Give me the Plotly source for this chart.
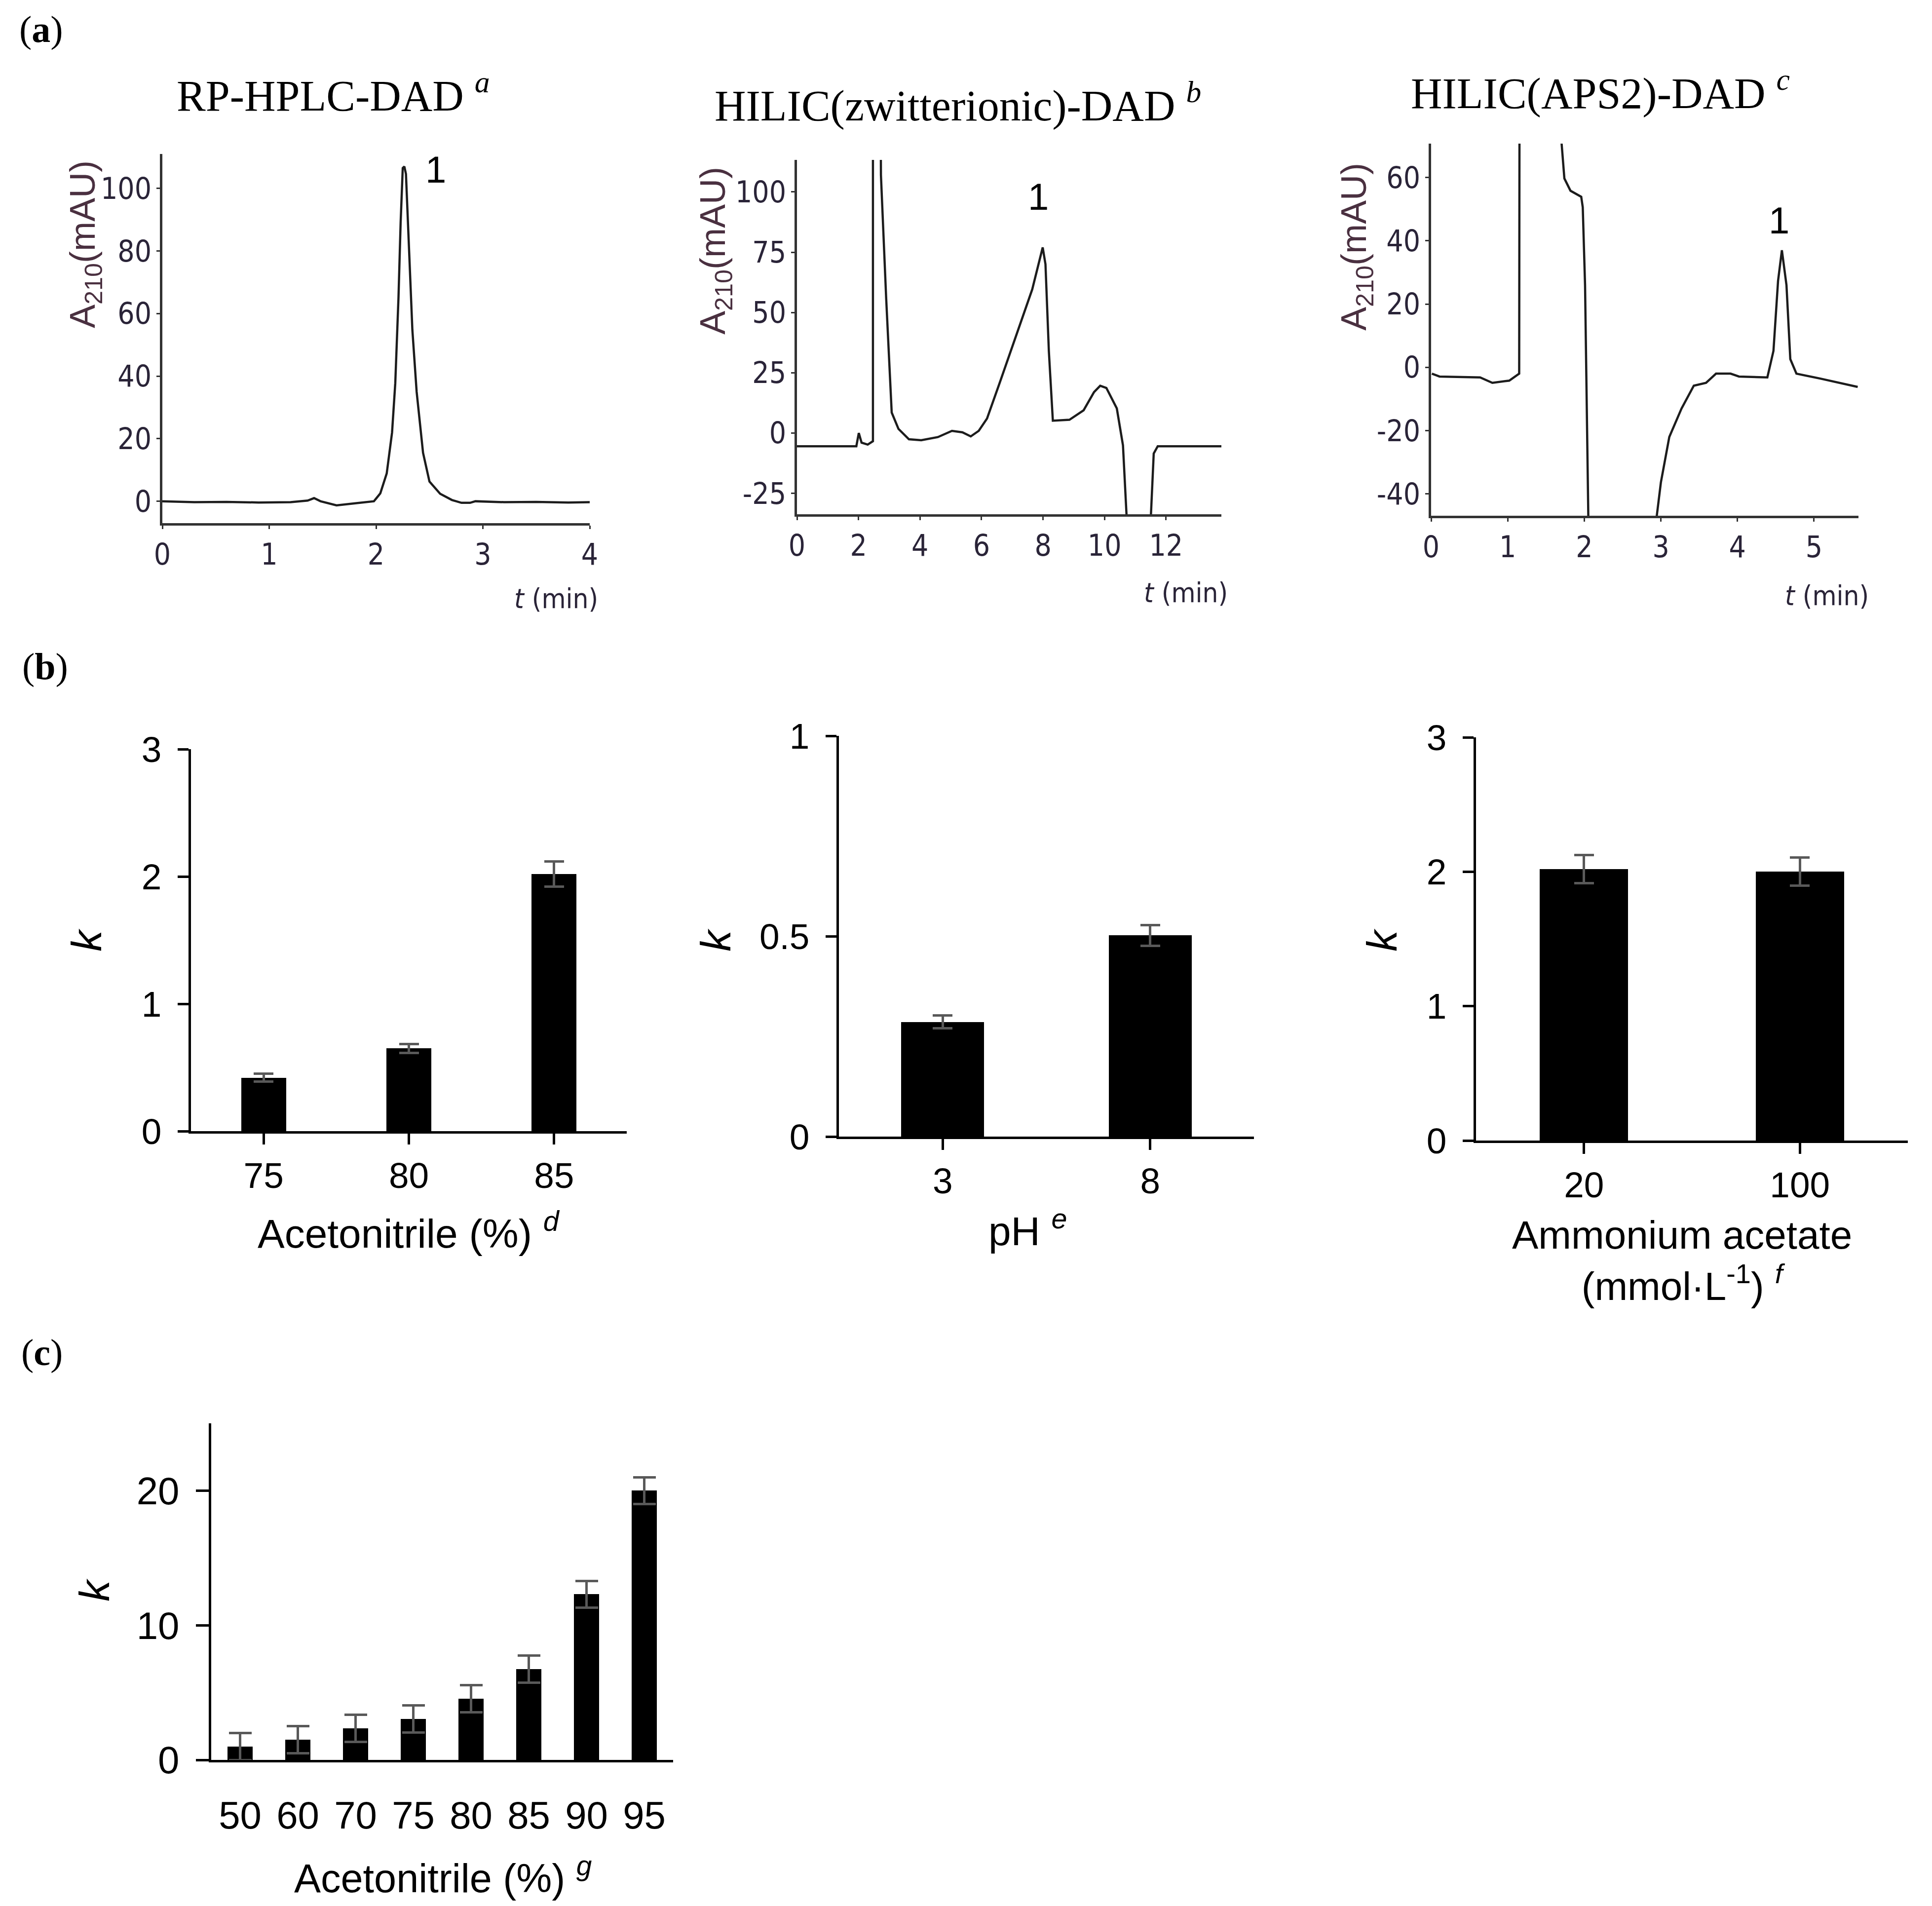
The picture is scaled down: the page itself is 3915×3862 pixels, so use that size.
import plotly.graph_objects as go

W, H = 3915, 3862

# ---- (a) chromatograms ----
rp_t = [0, 0.3, 0.6, 0.9, 1.2, 1.36, 1.42, 1.48, 1.63, 1.8, 1.98, 2.04, 2.10, 2.15, 2.18,
        2.21, 2.23, 2.25, 2.265, 2.28, 2.31, 2.34, 2.38, 2.44, 2.50, 2.60, 2.71, 2.80,
        2.88, 2.93, 3.2, 3.5, 3.8, 4.0]
rp_a = [0, -0.3, -0.2, -0.4, -0.3, 0.2, 1.0, 0, -1.3, -0.6, 0, 2.5, 8.9, 22, 37.7,
        65, 88.9, 106.5, 107, 104.6, 78, 54.8, 35, 15.5, 6.3, 2.4, 0.4, -0.5,
        -0.5, 0, -0.3, -0.2, -0.4, -0.3]

zw_t = [0, 1.93, 2.01, 2.10, 2.30, 2.47, 2.47, 2.60, 2.70, 2.73, 2.90, 3.08, 3.30, 3.64,
        4.04, 4.58, 5.04, 5.38, 5.65, 5.91, 6.18, 6.58, 7.12, 7.65, 7.99, 8.08, 8.19,
        8.32, 8.86, 9.32, 9.66, 9.86, 10.06, 10.40, 10.60, 10.76, 11.47, 11.60, 11.73, 13.81]
zw_a = [-5.5, -5.5, 0, -4, -4.8, -3.4, 200, 200, 200, 107, 56, 8.5, 1.7, -2.6,
        -3, -1.7, 0.9, 0.3, -1.4, 0.9, 6, 20.4, 40, 59.6, 77, 70, 34,
        5.1, 5.5, 9.4, 17, 19.6, 18.7, 10.2, -5.1, -45, -45, -8.5, -5.5, -5.5]

aps_t = [0.01, 0.11, 0.64, 0.80, 1.02, 1.15, 1.16, 1.40, 1.69, 1.74, 1.82, 1.96, 1.98,
         2.01, 2.06, 2.50, 2.88, 3.00, 3.11, 3.27, 3.43, 3.59, 3.72, 3.91, 4.02, 4.39,
         4.47, 4.53, 4.58, 4.64, 4.69, 4.77, 5.09, 5.57]
aps_a = [-2, -2.9, -3.2, -4.9, -4.2, -2, 200, 200, 75, 59.7, 55.8, 53.9, 50.6,
         26, -60, -60, -60, -36.4, -22, -13, -5.8, -4.9, -2, -2, -2.9, -3.2,
         5.2, 27.3, 37, 26, 2.6, -2, -3.6, -6.2]

rp_yticks = [0, 20, 40, 60, 80, 100]
zw_yticks = [-25, 0, 25, 50, 75, 100]
aps_yticks = [-40, -20, 0, 20, 40, 60]

# ---- (b) retention factors ----
acn_b = ["75", "80", "85"]
k_acn_b = [0.42, 0.65, 2.02]
err_acn_b = [0.03, 0.035, 0.1]

ph_cat = ["3", "8"]
k_ph = [0.286, 0.502]
err_ph = [0.016, 0.026]

amm_cat = ["20", "100"]
k_amm = [2.02, 2.0]
err_amm = [0.105, 0.105]

# ---- (c) ----
acn_c = ["50", "60", "70", "75", "80", "85", "90", "95"]
k_acn_c = [1.0, 1.5, 2.35, 3.05, 4.55, 6.75, 12.3, 20.0]
err_acn_c = [1.0, 1.0, 1.0, 1.0, 1.0, 1.0, 1.0, 1.0]


def fx(px):
    return px / W


def fy(py):
    return 1 - py / H


def hyphen(vals):
    # the original uses a plain hyphen for negatives
    return [str(v) for v in vals]


fig = go.Figure()

narrow = "Liberation Sans Narrow, DejaVu Sans Condensed, Liberation Sans, Arial"
sans = "Liberation Sans, Arial"
serif = "Liberation Serif, Times New Roman, serif"
chrom_font = dict(family=narrow, size=60, color="#2a2438")
bar_font = dict(family=sans, size=73, color="black")

chroms = [
    (rp_t, rp_a, "x", "y"),
    (zw_t, zw_a, "x2", "y2"),
    (aps_t, aps_a, "x3", "y3"),
]
for t, a, xa, ya in chroms:
    fig.add_trace(go.Scatter(x=t, y=a, mode="lines", xaxis=xa, yaxis=ya,
                             line=dict(color="#1c1c1c", width=4.5), showlegend=False,
                             hoverinfo="skip"))

bars = [
    (acn_b, k_acn_b, err_acn_b, "x4", "y4", 0.31, 20),
    (ph_cat, k_ph, err_ph, "x5", "y5", 0.40, 20),
    (amm_cat, k_amm, err_amm, "x6", "y6", 0.41, 20),
    (acn_c, k_acn_c, err_acn_c, "x7", "y7", 0.44, 23),
]
for cats, vals, errs, xa, ya, bw, cw in bars:
    fig.add_trace(go.Bar(x=cats, y=vals, xaxis=xa, yaxis=ya, width=bw,
                         marker=dict(color="black", line=dict(width=0)),
                         error_y=dict(type="data", array=errs, visible=True,
                                      color="#595959", thickness=5, width=cw),
                         showlegend=False))

chrom_ax = dict(showline=True, linecolor="#333333", linewidth=5, ticks="outside",
                ticklen=7, tickwidth=3, tickcolor="#333333", tickfont=chrom_font,
                showgrid=False, zeroline=False, automargin=False)
bar_ax = dict(showline=True, linecolor="black", linewidth=5, ticks="outside",
              ticklen=22, tickwidth=5, tickcolor="black", tickfont=bar_font,
              showgrid=False, zeroline=False, automargin=False)

layout = dict(
    template="none",
    width=W, height=H, margin=dict(l=0, r=0, t=0, b=0, pad=0, autoexpand=False),
    paper_bgcolor="white", plot_bgcolor="white", bargap=0, showlegend=False,
    # (a)
    xaxis=dict(chrom_ax, domain=[fx(321), fx(1187)], range=[0, 4], tickvals=[0, 1, 2, 3, 4], anchor="y"),
    yaxis=dict(chrom_ax, domain=[fy(1052), fy(304)], range=[-7, 111],
               tickvals=rp_yticks, ticktext=hyphen(rp_yticks), ticklabelstandoff=-2, anchor="x"),
    xaxis2=dict(chrom_ax, domain=[fx(1607), fx(2467)], range=[0, 13.8],
                tickvals=[0, 2, 4, 6, 8, 10, 12], anchor="y2"),
    yaxis2=dict(chrom_ax, domain=[fy(1034), fy(316)], range=[-33.7, 113.3],
                tickvals=zw_yticks, ticktext=hyphen(zw_yticks), ticklabelstandoff=-2, anchor="x2"),
    xaxis3=dict(chrom_ax, domain=[fx(2892), fx(3758)], range=[0, 5.58],
                tickvals=[0, 1, 2, 3, 4, 5], anchor="y3"),
    yaxis3=dict(chrom_ax, domain=[fy(1037), fy(283)], range=[-46.9, 70.7],
                tickvals=aps_yticks, ticktext=hyphen(aps_yticks), ticklabelstandoff=-2, anchor="x3"),
    # (b)
    xaxis4=dict(bar_ax, type="category", domain=[fx(379), fx(1262)], range=[-0.5, 2.5], anchor="y4"),
    yaxis4=dict(bar_ax, domain=[fy(2284), fy(1510)], range=[0, 3], tickvals=[0, 1, 2, 3],
                ticklabelstandoff=18, anchor="x4"),
    xaxis5=dict(bar_ax, type="category", domain=[fx(1692), fx(2533)], range=[-0.5, 1.5], anchor="y5"),
    yaxis5=dict(bar_ax, domain=[fy(2295), fy(1483)], range=[0, 1], tickvals=[0, 0.5, 1],
                ticklabelstandoff=18, anchor="x5"),
    xaxis6=dict(bar_ax, type="category", domain=[fx(2983), fx(3858)], range=[-0.5, 1.5], anchor="y6"),
    yaxis6=dict(bar_ax, domain=[fy(2303), fy(1486)], range=[0, 3], tickvals=[0, 1, 2, 3],
                ticklabelstandoff=18, anchor="x6"),
    # (c)
    xaxis7=dict(bar_ax, type="category", domain=[fx(420), fx(1356)], range=[-0.5, 7.5], anchor="y7",
                ticks="", tickfont=dict(bar_font, size=78), ticklabelstandoff=40),
    yaxis7=dict(bar_ax, domain=[fy(3558), fy(2876)], range=[0, 25], tickvals=[0, 10, 20],
                tickfont=dict(bar_font, size=78), ticklen=26, ticklabelstandoff=18, anchor="x7"),
)
fig.update_layout(**layout)

notes = []


def note(text, px, py, size, family, color="black", angle=0):
    notes.append(dict(text=text, x=fx(px), y=fy(py), xref="paper", yref="paper",
                      showarrow=False, xanchor="center", yanchor="middle", textangle=angle,
                      font=dict(family=family, size=size, color=color)))


# panel letters
note("(<b>a</b>)", 75, 52, 76, serif)
note("(<b>b</b>)", 83, 1342, 76, serif)
note("(<b>c</b>)", 77, 2732, 76, serif)

# chromatogram titles
note("RP-HPLC-DAD <sup><i>a</i></sup>", 667, 180, 88, serif)
note("HILIC(zwitterionic)-DAD <sup><i>b</i></sup>", 1933, 199, 88, serif)
note("HILIC(APS2)-DAD <sup><i>c</i></sup>", 3235, 175, 88, serif)

# chromatogram axis titles
ytitle = "A<sub>210</sub>(mAU)"
for px, py in [(164, 487), (1441, 500), (2741, 492)]:
    note(ytitle, px, py, 72, sans, "#4a3040", -90)
for px, py in [(1119, 1204), (2395, 1192), (3694, 1198)]:
    note("<i>t</i> (min)", px, py, 56, narrow, "#2a2438")

# bar chart titles
for px, py in [(167, 1897), (1442, 1897), (2792, 1897), (183, 3214)]:
    note("<i>k</i>", px, py, 86, sans, "black", -90)
note("Acetonitrile (%) <sup><i>d</i></sup>", 820, 2485, 82, sans)
note("pH <sup><i>e</i></sup>", 2075, 2480, 82, sans)
note("Ammonium acetate<br>(mmol·L<sup>-1</sup>) <sup><i>f</i></sup>", 3400, 2546, 80, sans)
note("Acetonitrile (%) <sup><i>g</i></sup>", 890, 3792, 81, sans)

# peak labels in data coordinates
for xr, yr, xv, yv in [("x", "y", 2.56, 106), ("x2", "y2", 7.85, 98), ("x3", "y3", 4.54, 46.5)]:
    notes.append(dict(text="1", x=xv, y=yv, xref=xr, yref=yr, showarrow=False,
                      font=dict(family=sans, size=76, color="black")))

fig.update_layout(annotations=notes)

fig.write_html("out.html")
